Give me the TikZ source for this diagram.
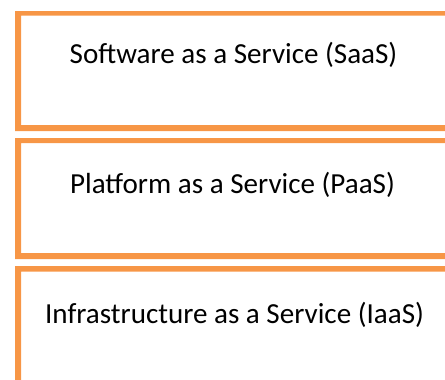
\documentclass[tikz,border=0pt]{standalone}
\usepackage{fontspec}
\setmainfont{Carlito}
\definecolor{layerorange}{RGB}{247,150,70}
\tikzset{
  layerframe/.style={fill=layerorange, even odd rule},
  layerlabel/.style={anchor=base, inner sep=0pt, text=black,
    font=\fontsize{21.8}{26}\selectfont}
}
\begin{document}
\begin{tikzpicture}[x=0.75pt, y=-0.75pt]
  \useasboundingbox (0,0) rectangle (445,379);
  \clip (0,0) rectangle (445,379);
  % frames of the three service layers (left and bottom edges a little heavier)
  \fill[layerframe] (15,11) rectangle (470,131)  (21,15.5) rectangle (465,125);
  \fill[layerframe] (15,138) rectangle (470,259) (21,143) rectangle (465,253);
  \fill[layerframe] (15,266) rectangle (470,395) (21,271.5) rectangle (465,389);
  % layer names
  \node[layerlabel] (saas) at (233.5,63.5) {Software as a Service (SaaS)};
  \node[layerlabel] (paas) at (232.5,193) {Platform as a Service (PaaS)};
  \node[layerlabel] (iaas) at (234.5,323) {Infrastructure as a Service (IaaS)};
\end{tikzpicture}
\end{document}
